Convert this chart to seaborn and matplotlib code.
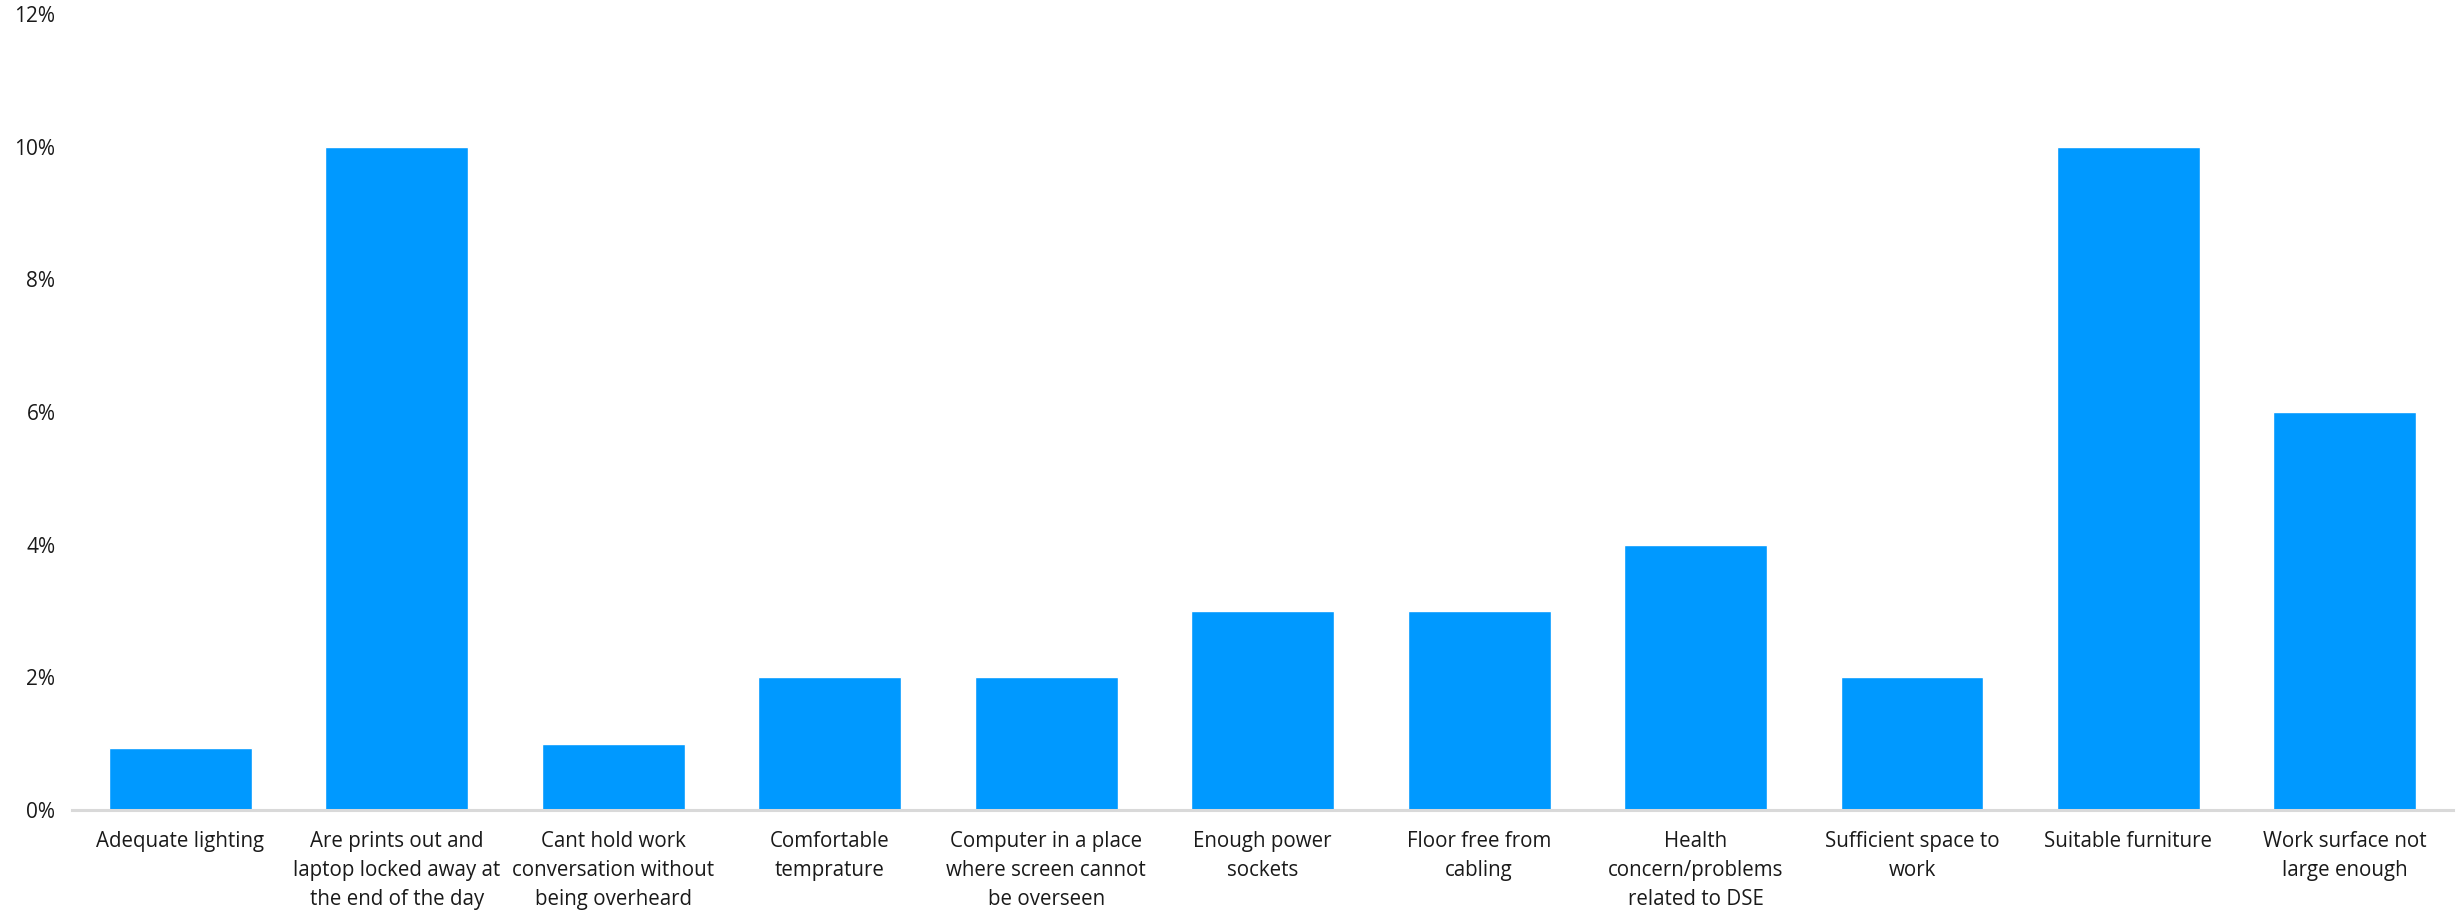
import matplotlib
matplotlib.use("Agg")
import matplotlib.pyplot as plt
import seaborn as sns
import pandas as pd
from matplotlib.ticker import FuncFormatter

categories = [
    "Adequate lighting",
    "Are prints out and laptop locked away at the end of the day",
    "Cant hold work conversation without being overheard",
    "Comfortable temprature",
    "Computer in a place where screen cannot be overseen",
    "Enough power sockets",
    "Floor free from cabling",
    "Health concern/problems related to DSE",
    "Sufficient space to work",
    "Suitable furniture",
    "Work surface not large enough",
]
tick_labels = [
    "Adequate lighting",
    "Are prints out and\nlaptop locked away at\nthe end of the day",
    "Cant hold work\nconversation without\nbeing overheard",
    "Comfortable\ntemprature",
    "Computer in a place\nwhere screen cannot\nbe overseen",
    "Enough power\nsockets",
    "Floor free from\ncabling",
    "Health\nconcern/problems\nrelated to DSE",
    "Sufficient space to\nwork",
    "Suitable furniture",
    "Work surface not\nlarge enough",
]
percentages = [0.94, 10.0, 1.0, 2.0, 2.0, 3.0, 3.0, 4.0, 2.0, 10.0, 6.0]
y_ticks = [0, 2, 4, 6, 8, 10, 12]

sns.set_theme(style="white")
plt.rcParams["font.family"] = ["Open Sans", "DejaVu Sans"]

df = pd.DataFrame({"category": categories, "pct": percentages})

fig = plt.figure(figsize=(24.61, 9.10), dpi=100)
ax = fig.add_axes([0.0293, 0.1099, 0.9675, 0.8747])

sns.barplot(data=df, x="category", y="pct", color="#0099FF", width=0.66,
            saturation=1, ax=ax)

ax.set_xlim(-0.5, len(categories) - 0.5)
ax.set_ylim(0, 12)
ax.set_yticks(y_ticks)
ax.yaxis.set_major_formatter(FuncFormatter(lambda v, _: f"{v:.0f}%"))
ax.set_xticks(range(len(tick_labels)))
ax.set_xticklabels(tick_labels, fontsize=14.8, color="#1a1a1a", linespacing=1.5)
ax.tick_params(axis="y", labelsize=15, colors="#1a1a1a", length=0, pad=12)
ax.tick_params(axis="x", length=0, pad=15)
ax.set_xlabel("")
ax.set_ylabel("")

for side in ["top", "right", "left"]:
    ax.spines[side].set_visible(False)
ax.spines["bottom"].set_color("#d9d9d9")
ax.spines["bottom"].set_linewidth(2.2)
ax.grid(False)

fig.savefig("out.png", dpi=100, facecolor="white")
